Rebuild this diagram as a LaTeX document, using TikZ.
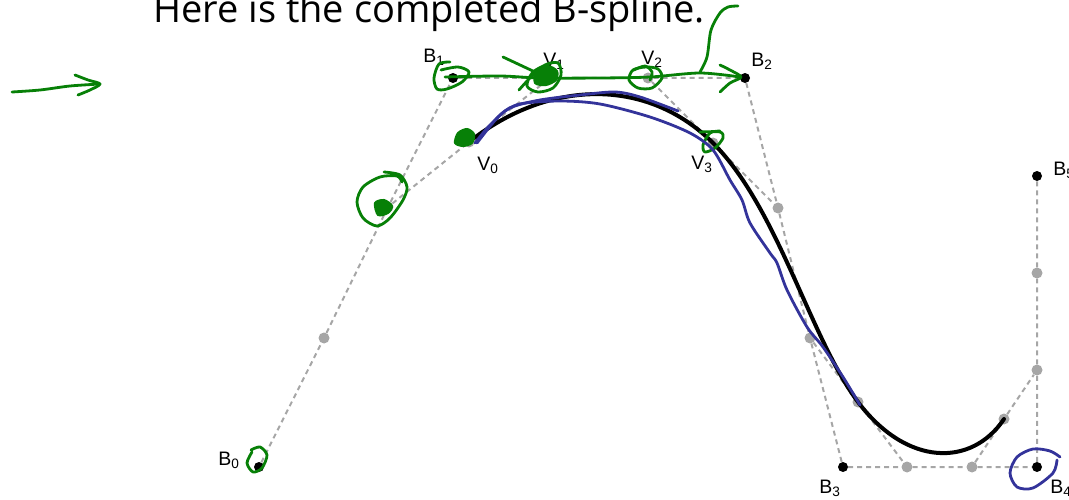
\documentclass[tikz,border=0pt]{standalone}
\usepackage{fontspec}
\setmainfont{Liberation Sans}
\newfontfamily\titlefont{Open Sans}
\usetikzlibrary{arrows.meta}
\definecolor{ctrlgray}{HTML}{A6A6A6}
\definecolor{inkgreen}{HTML}{078007}
\definecolor{inkblue}{HTML}{33339A}
\begin{document}
\begin{tikzpicture}[
  x=1pt, y=-1pt,
  ctrl/.style={draw=ctrlgray, line width=2pt, dash pattern=on 5pt off 4pt},
  knot/.style={circle, fill=black, inner sep=0pt, minimum size=10pt},
  third/.style={circle, fill=ctrlgray, inner sep=0pt, minimum size=11pt},
  lab/.style={font=\fontsize{19.5}{21}\selectfont, inner sep=0pt},
  green ink/.style={draw=inkgreen, line width=2.8pt, line cap=round, line join=round},
  blue ink/.style={draw=inkblue, line width=2.8pt, line cap=round, line join=round},
  blob/.style={draw=inkgreen, fill=inkgreen, line width=2pt}
]
  \useasboundingbox (0,0) rectangle (1069,500);

  \node[anchor=base west, inner sep=0pt, font=\titlefont\fontsize{38}{40}\selectfont] (title) at (153,23) {Here is the completed B-spline.};

  \node[knot] (b0) at (259,467) {};
  \node[knot] (b1) at (453,78) {};
  \node[knot] (b2) at (745,78) {};
  \node[knot] (b3) at (843,467) {};
  \node[knot] (b4) at (1037,467) {};
  \node[knot] (b5) at (1037,176) {};

  \node[third] (t1) at (324,338) {};
  \node[third] (t2) at (388,207) {};
  \node[third] (t3) at (550,78) {};
  \node[third] (t4) at (648,78) {};
  \node[third] (t5) at (778,208) {};
  \node[third] (t6) at (810,338) {};
  \node[third] (t7) at (907,467) {};
  \node[third] (t8) at (972,467) {};
  \node[third] (t9) at (1037,370) {};
  \node[third] (t10) at (1037,273) {};

  \node[third] (v0) at (469,142) {};
  \node[third] (v3) at (713,143) {};
  \node[third] (v4) at (858,402) {};
  \node[third] (v5) at (1004,419) {};

  \draw[ctrl] (b0) -- (t1) -- (t2) -- (b1) -- (t3) -- (t4) -- (b2) -- (t5) -- (t6) -- (b3) -- (t7) -- (t8) -- (b4) -- (t9) -- (t10) -- (b5);
  \draw[ctrl] (t2) -- (v0) -- (t3);
  \draw[ctrl] (t4) -- (v3) -- (t5);
  \draw[ctrl] (t6) -- (v4) -- (t7);
  \draw[ctrl] (t8) -- (v5) -- (t9);

  \draw[line width=4pt, line cap=round]
    (v0.center) .. controls (t3.center) and (t4.center) .. (v3.center)
    .. controls (t5.center) and (t6.center) .. (v4.center)
    .. controls (t7.center) and (t8.center) .. (v5.center);

  \node[lab] (lb0) at (229,460) {B\textsubscript{0}};
  \node[lab] (lb1) at (434,57) {B\textsubscript{1}};
  \node[lab] (lb2) at (762,61) {B\textsubscript{2}};
  \node[lab] (lb3) at (830,488) {B\textsubscript{3}};
  \node[lab] (lb4) at (1061,488) {B\textsubscript{4}};
  \node[lab] (lb5) at (1064,170) {B\textsubscript{5}};
  \node[lab] (lv0) at (488,165) {V\textsubscript{0}};
  \node[lab] (lv1) at (554,61) {V\textsubscript{1}};
  \node[lab] (lv2) at (652,59) {V\textsubscript{2}};
  \node[lab] (lv3) at (702,164) {V\textsubscript{3}};

  % green strokes
  \draw[green ink] plot[smooth] coordinates {(12,92) (40,90) (70,86) (100,84)};
  \draw[green ink] plot[smooth] coordinates {(75,75) (88,80) (100,84) (90,90) (78,95)};
  \draw[green ink] plot[smooth] coordinates {(251,450) (260,447) (267,455) (262,468) (253,472) (247,463) (252,452)};
  \draw[green ink] plot[smooth] coordinates {(450,62) (439,64) (434,78) (437,89) (447,89) (462,82) (469,72) (458,67) (441,70)};
  \draw[green ink] plot[smooth] coordinates {(445,77) (500,76) (540,78) (600,78) (650,77) (700,73) (740,77)};
  \draw[green ink] plot[smooth] coordinates {(720,65) (730,70) (741,77) (730,83) (720,92)};
  \draw[green ink] plot[smooth] coordinates {(700,72) (707,57) (711,30) (720,13) (728,7) (738,6)};
  \draw[green ink] (503,57) -- (535,72);
  \draw[green ink] plot[smooth cycle] coordinates {(646,67) (658,69) (662,78) (652,88) (638,88) (629,80) (633,70)};
  \draw[green ink] plot[smooth] coordinates {(634,70) (645,66) (652,72) (650,80)};
  \draw[blob] plot[smooth cycle] coordinates {(536,70) (548,66) (557,71) (556,80) (546,85) (535,83)};
  \draw[green ink] plot[smooth] coordinates {(519,90) (530,78) (545,65) (558,63) (561,75) (553,88) (538,92) (527,86) (533,72) (550,63)};
  \draw[blob] plot[smooth cycle] coordinates {(458,133) (467,129) (474,134) (472,143) (463,146) (455,143)};
  \draw[blob] plot[smooth cycle] coordinates {(375,203) (384,200) (392,206) (388,213) (378,215)};
  \draw[green ink] plot[smooth] coordinates {(384,172) (400,175) (407,187) (403,200) (390,218) (377,226) (363,218) (357,202) (363,187) (380,177) (397,176) (402,182)};
  \draw[green ink] plot[smooth] coordinates {(700,132) (720,132) (723,138) (715,148) (705,152) (703,145) (710,133) (720,131)};

  % blue strokes
  \draw[blue ink] plot[smooth] coordinates {(475,143) (490,125) (510,108) (540,100) (580,95) (615,92) (640,97) (678,111)};
  \draw[blue ink] plot[smooth] coordinates {(477,143) (500,115) (520,104) (560,101) (600,104) (650,117) (690,133) (713,150) (730,180) (742,200) (750,223) (770,253) (777,263) (787,290) (807,327) (823,347) (843,377) (860,405)};
  \draw[blue ink] plot[smooth] coordinates {(1060,457) (1050,451) (1033,449) (1017,457) (1010,473) (1017,487) (1033,488) (1053,473) (1057,460)};
\end{tikzpicture}
\end{document}
